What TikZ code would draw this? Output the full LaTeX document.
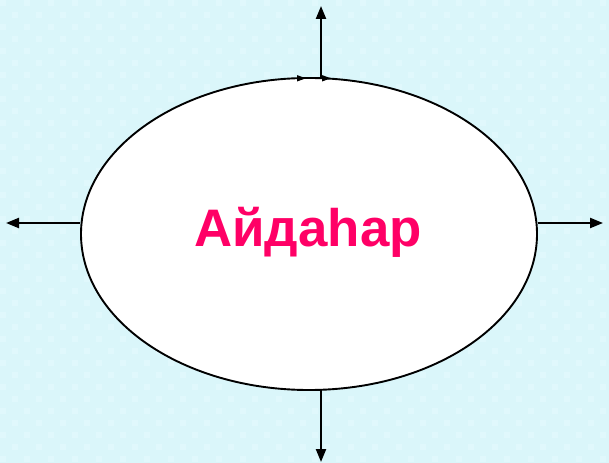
\documentclass[tikz,border=0pt]{standalone}
\usepackage{fontspec}
\setmainfont{Liberation Sans}
\usetikzlibrary{arrows.meta,shapes.geometric}
\definecolor{bgcyan}{RGB}{218,246,250}
\definecolor{bglight}{RGB}{224,248,252}
\definecolor{titlered}{RGB}{255,0,102}
\tikzset{
  arr/.style={line width=2.2bp,-{Triangle[length=13bp,width=10bp]}},
  tinytip/.style={line width=1.4bp,-{Triangle[length=9bp,width=6bp]}},
  oval/.style={ellipse,draw=black,line width=1.9bp,fill=white,minimum width=456bp,minimum height=312bp,inner sep=0pt},
  title/.style={text=titlered,font=\fontsize{53}{55}\selectfont\bfseries}
}
\begin{document}
\begin{tikzpicture}[x=1bp,y=-1bp]
\fill[bgcyan] (0,0) rectangle (609,463);
\foreach \i in {0,...,50}{
  \foreach \j in {0,...,38}{
    \pgfmathparse{int(mod(\i+\j,2))}
    \ifnum\pgfmathresult=0
      \fill[bglight] (\i*12,\j*12) rectangle ++(6,6);
    \fi
  }
}
\useasboundingbox (0,0) rectangle (609,463);
\node[oval] (e) at (309,234) {};
\node[title] (t) at (308,232) {Айдаһар};
\coordinate (topend) at (321,6);
\coordinate (botend) at (321,462);
\coordinate (leftend) at (6,223);
\coordinate (rightend) at (603,223);
\coordinate (topstart) at (321,78);
\coordinate (botstart) at (321,390);
\coordinate (leftstart) at (e.west |- leftend);
\coordinate (rightstart) at (e.east |- rightend);
\draw[arr] (topstart) -- (topend);
\draw[arr] (botstart) -- (botend);
\draw[arr] (leftstart) -- (leftend);
\draw[arr] (rightstart) -- (rightend);
\coordinate (ta) at (296,78.3);
\coordinate (tb) at (306,78.3);
\coordinate (tc) at (321,78.3);
\coordinate (td) at (331,78.3);
\draw[tinytip] (ta) -- (tb);
\draw[tinytip] (tc) -- (td);
\end{tikzpicture}
\end{document}
